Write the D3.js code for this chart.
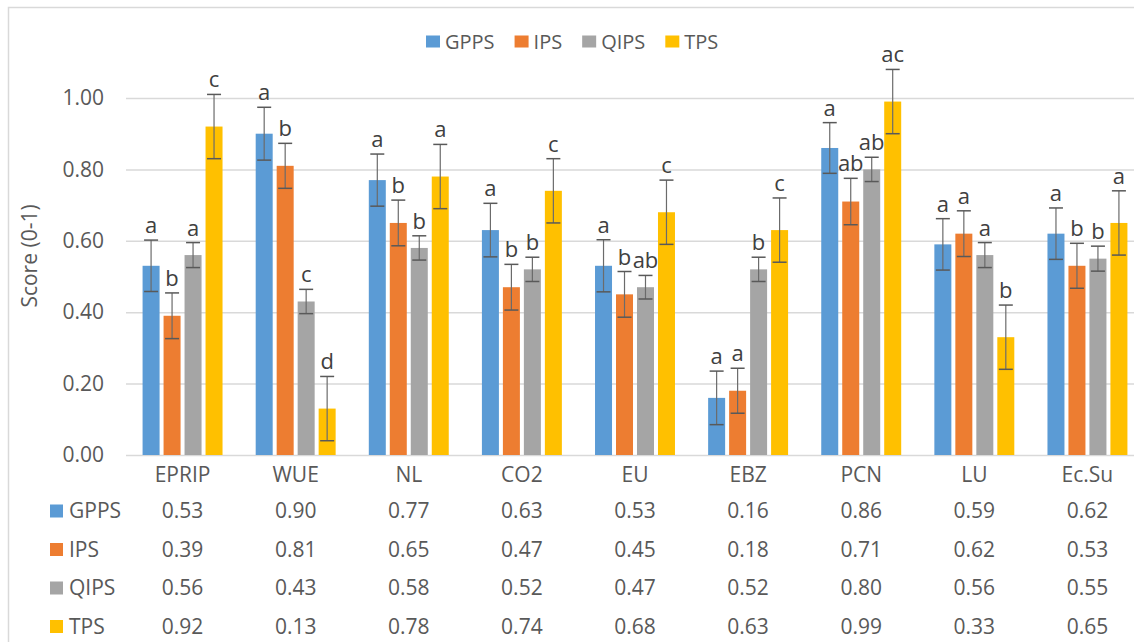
<!DOCTYPE html>
<html>
<head>
<meta charset="utf-8">
<script src="https://cdn.jsdelivr.net/npm/d3@7"></script>
<style>
  html, body { margin: 0; padding: 0; background: #ffffff; }
  svg { display: block; font-family: "Open Sans", "Noto Sans", sans-serif; }
</style>
</head>
<body>
<svg id="chart" width="1134" height="642"></svg>
<script>
// Indicator categories along the x axis
const categories = ["EPRIP", "WUE", "NL", "CO2", "EU", "EBZ", "PCN", "LU", "Ec.Su"];

// Production systems (series)
const seriesNames = ["GPPS", "IPS", "QIPS", "TPS"];
const seriesColors = ["#5B9BD5", "#ED7D31", "#A5A5A5", "#FFC000"];

// Mean scores (0-1) per system
const gppsValues = [0.53, 0.90, 0.77, 0.63, 0.53, 0.16, 0.86, 0.59, 0.62];
const ipsValues  = [0.39, 0.81, 0.65, 0.47, 0.45, 0.18, 0.71, 0.62, 0.53];
const qipsValues = [0.56, 0.43, 0.58, 0.52, 0.47, 0.52, 0.80, 0.56, 0.55];
const tpsValues  = [0.92, 0.13, 0.78, 0.74, 0.68, 0.63, 0.99, 0.33, 0.65];

// Error bar half-widths
const gppsErr = [0.072, 0.074, 0.073, 0.075, 0.073, 0.075, 0.071, 0.072, 0.072];
const ipsErr  = [0.064, 0.063, 0.064, 0.064, 0.064, 0.063, 0.065, 0.064, 0.063];
const qipsErr = [0.035, 0.034, 0.034, 0.034, 0.033, 0.034, 0.034, 0.035, 0.035];
const tpsErr  = [0.090, 0.090, 0.090, 0.090, 0.090, 0.090, 0.090, 0.090, 0.090];

// Significance letters
const gppsLetters = ["a", "a", "a", "a", "a", "a", "a", "a", "a"];
const ipsLetters  = ["b", "b", "b", "b", "b", "a", "ab", "a", "b"];
const qipsLetters = ["a", "c", "b", "b", "ab", "b", "ab", "a", "b"];
const tpsLetters  = ["c", "d", "a", "c", "c", "c", "ac", "b", "a"];

// Y axis tick values
const yTicks = [0, 0.2, 0.4, 0.6, 0.8, 1.0];

const valuesBySeries = [gppsValues, ipsValues, qipsValues, tpsValues];
const errBySeries = [gppsErr, ipsErr, qipsErr, tpsErr];
const lettersBySeries = [gppsLetters, ipsLetters, qipsLetters, tpsLetters];

const textColor = "#595959";
const gridColor = "#d9d9d9";
const fontSize = 21;

const svg = d3.select("#chart");

// Chart frame
svg.append("rect")
  .attr("x", 8.5).attr("y", 7.5)
  .attr("width", 1140).attr("height", 660)
  .attr("fill", "none").attr("stroke", gridColor).attr("stroke-width", 1.5);

const plot = { left: 126, right: 1144, top: 98, bottom: 455 };

const x0 = d3.scaleBand().domain(categories).range([plot.left, plot.right]).paddingInner(0).paddingOuter(0);
const x1 = d3.scaleBand().domain(seriesNames).range([0, x0.bandwidth()]).paddingInner(0.19).paddingOuter(0.79);
const y = d3.scaleLinear().domain([0, 1]).range([plot.bottom, plot.top]);

// Gridlines and y tick labels via a left axis
const yAxis = d3.axisLeft(y)
  .tickValues(yTicks)
  .tickFormat(d3.format(".2f"))
  .tickSize(-(plot.right - plot.left))
  .tickPadding(22);

const gy = svg.append("g")
  .attr("transform", `translate(${plot.left},0)`)
  .call(yAxis);
gy.select(".domain").remove();
gy.selectAll(".tick line").attr("stroke", gridColor).attr("stroke-width", 1.5);
gy.selectAll(".tick text")
  .attr("fill", textColor)
  .style("font-size", fontSize + "px")
  .style("font-family", "'Open Sans', sans-serif");

// Y axis title
svg.append("text")
  .attr("transform", "translate(37,256) rotate(-90)")
  .attr("text-anchor", "middle")
  .attr("fill", textColor)
  .style("font-size", fontSize + "px")
  .text("Score (0-1)");

// Bars, error bars, letters
const groups = svg.append("g").selectAll("g.cat")
  .data(categories)
  .join("g")
  .attr("class", "cat")
  .attr("transform", d => `translate(${x0(d)},0)`);

seriesNames.forEach((s, si) => {
  const vals = valuesBySeries[si];
  const errs = errBySeries[si];
  const lets = lettersBySeries[si];
  const bw = x1.bandwidth();

  groups.append("rect")
    .attr("x", x1(s))
    .attr("y", (d, i) => y(vals[i]))
    .attr("width", bw)
    .attr("height", (d, i) => y(0) - y(vals[i]))
    .attr("fill", seriesColors[si]);

  const cx = x1(s) + bw / 2;
  const capHalf = 7;

  groups.append("line")
    .attr("x1", cx).attr("x2", cx)
    .attr("y1", (d, i) => y(vals[i] + errs[i]))
    .attr("y2", (d, i) => y(vals[i] - errs[i]))
    .attr("stroke", "#6b6b6b").attr("stroke-width", 1.2);
  groups.append("line")
    .attr("x1", cx - capHalf).attr("x2", cx + capHalf)
    .attr("y1", (d, i) => y(vals[i] + errs[i]))
    .attr("y2", (d, i) => y(vals[i] + errs[i]))
    .attr("stroke", "#595959").attr("stroke-width", 1.5);
  groups.append("line")
    .attr("x1", cx - capHalf).attr("x2", cx + capHalf)
    .attr("y1", (d, i) => y(vals[i] - errs[i]))
    .attr("y2", (d, i) => y(vals[i] - errs[i]))
    .attr("stroke", "#595959").attr("stroke-width", 1.5);

  groups.append("text")
    .attr("x", cx)
    .attr("y", (d, i) => y(vals[i] + errs[i]) - 7)
    .attr("text-anchor", "middle")
    .attr("fill", "#404040")
    .style("font-size", "22px")
    .text((d, i) => lets[i]);
});

// Data table below the axis: category labels then one row per series
const catCenter = c => x0(c) + x0.bandwidth() / 2;

svg.append("g").selectAll("text")
  .data(categories)
  .join("text")
  .attr("x", d => catCenter(d))
  .attr("y", 475)
  .attr("dy", "0.35em")
  .attr("text-anchor", "middle")
  .attr("fill", textColor)
  .style("font-size", fontSize + "px")
  .text(d => d);

const rowY = [511, 549.5, 588, 626.5];
seriesNames.forEach((s, si) => {
  const row = svg.append("g");
  row.append("rect")
    .attr("x", 50).attr("y", rowY[si] - 6.5)
    .attr("width", 13).attr("height", 13)
    .attr("fill", seriesColors[si]);
  row.append("text")
    .attr("x", 69).attr("y", rowY[si])
    .attr("dy", "0.35em")
    .attr("fill", textColor)
    .style("font-size", fontSize + "px")
    .text(s);
  row.selectAll("text.val")
    .data(valuesBySeries[si])
    .join("text")
    .attr("class", "val")
    .attr("x", (d, i) => catCenter(categories[i]))
    .attr("y", rowY[si])
    .attr("dy", "0.35em")
    .attr("text-anchor", "middle")
    .attr("fill", textColor)
    .style("font-size", fontSize + "px")
    .text(d => d3.format(".2f")(d));
});

// Top legend, laid out item by item
const legend = svg.append("g");
let lx = 426;
seriesNames.forEach((s, si) => {
  legend.append("rect")
    .attr("x", lx).attr("y", 35.5)
    .attr("width", 14).attr("height", 12)
    .attr("fill", seriesColors[si]);
  const t = legend.append("text")
    .attr("x", lx + 19).attr("y", 42)
    .attr("dy", "0.35em")
    .attr("fill", textColor)
    .style("font-size", "20px")
    .text(s);
  lx += 19 + t.node().getComputedTextLength() + 20;
});
</script>
</body>
</html>
